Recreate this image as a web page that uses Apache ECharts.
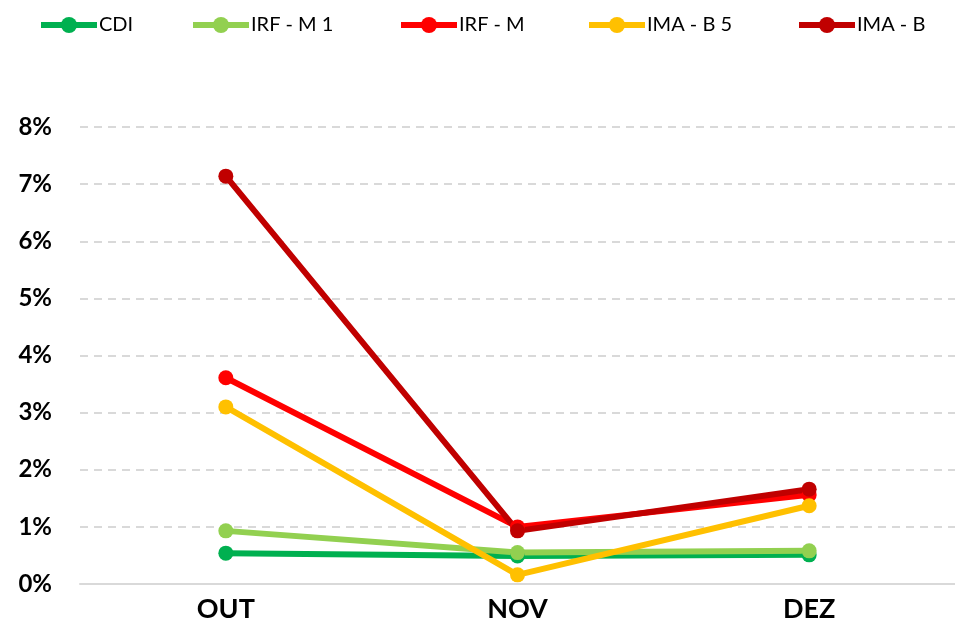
<!DOCTYPE html>
<html><head><meta charset="utf-8">
<script src="https://cdn.jsdelivr.net/npm/echarts@6/dist/echarts.min.js"></script>
<style>html,body{margin:0;padding:0;background:#fff}#c{width:955px;height:639px}</style>
</head><body><div id="c"></div>
<script>
const categories = ['OUT', 'NOV', 'DEZ'];
const seriesNames = ['CDI', 'IRF - M 1', 'IRF - M', 'IMA - B 5', 'IMA - B'];
const cdi = [0.54, 0.49, 0.51];
const irfm1 = [0.93, 0.55, 0.58];
const irfm = [3.61, 1.00, 1.56];
const imab5 = [3.10, 0.16, 1.37];
const imab = [7.14, 0.93, 1.66];
const colors = ['#00b050', '#92d050', '#ff0000', '#ffc000', '#c00000'];
const values = [cdi, irfm1, irfm, imab5, imab];
const legendLeft = [33, 185, 393, 581, 791];

const chart = echarts.init(document.getElementById('c'));
chart.setOption({
  animation: false,
  legend: seriesNames.map((n, i) => ({
    top: 10, left: legendLeft[i],
    itemWidth: 56, itemHeight: 20,
    lineStyle: { width: 6 },
    textStyle: { fontFamily: 'Lato', fontSize: 20, color: '#000', padding: [0, 0, 0, -3] },
    data: [n]
  })),
  grid: { left: 80, width: 879, top: 127, bottom: 55 },
  xAxis: {
    type: 'category', data: categories, boundaryGap: true,
    axisLine: { lineStyle: { color: '#d9d9d9', width: 2 } },
    axisTick: { show: false },
    axisLabel: { fontFamily: 'Lato', fontWeight: 'bold', fontSize: 27, color: '#000', margin: 12 }
  },
  yAxis: {
    type: 'value', min: 0, max: 8, interval: 1,
    axisLine: { show: false }, axisTick: { show: false },
    axisLabel: { formatter: v => v + '%', fontFamily: 'Lato', fontWeight: 'bold', fontSize: 24, color: '#000', margin: 28 },
    splitLine: { lineStyle: { color: '#d9d9d9', width: 2, type: [8, 6] } }
  },
  series: seriesNames.map((n, i) => ({
    name: n, type: 'line', data: values[i],
    symbol: 'circle', symbolSize: 15,
    lineStyle: { width: 6, color: colors[i] },
    itemStyle: { color: colors[i] }
  }))
});
</script></body></html>
